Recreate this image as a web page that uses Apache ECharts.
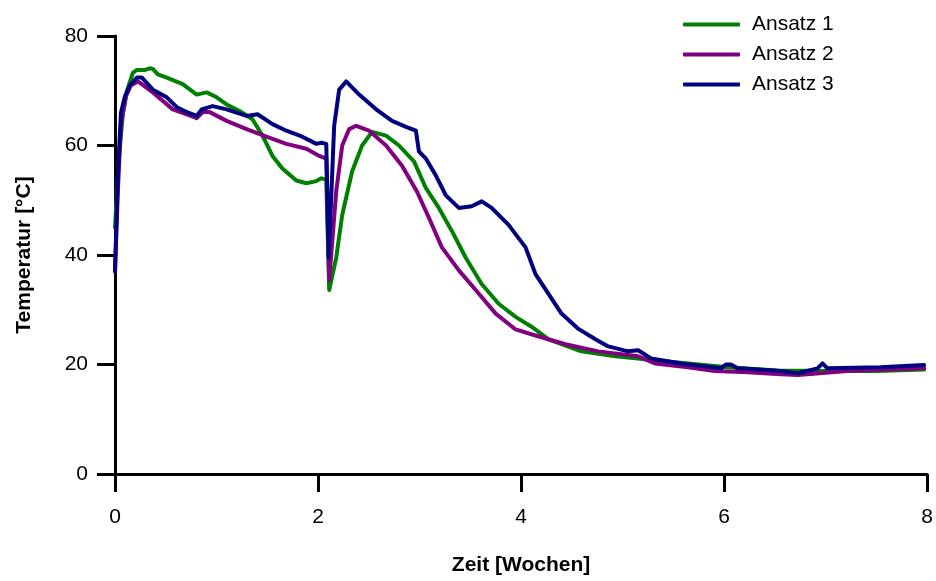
<!DOCTYPE html>
<html><head><meta charset="utf-8">
<script src="https://cdn.jsdelivr.net/npm/echarts@6/dist/echarts.min.js"></script>
<style>html,body{margin:0;padding:0;background:#fff}#c{width:936px;height:581px}</style>
</head><body><div id="c"></div>
<script>
const seriesNames = ['Ansatz 1', 'Ansatz 2', 'Ansatz 3'];
const xTicks = [0, 2, 4, 6, 8];
const yTicks = [0, 20, 40, 60, 80];

const weeks1 = [0,0.039,0.079,0.118,0.177,0.216,0.294,0.344,0.373,0.422,0.510,0.667,0.805,0.903,1.001,1.099,1.227,1.354,1.453,1.551,1.649,1.786,1.885,1.983,2.032,2.081,2.110,2.179,2.238,2.336,2.434,2.532,2.670,2.797,2.945,3.063,3.190,3.318,3.455,3.612,3.779,3.946,4.103,4.270,4.594,4.927,5.251,5.644,6.037,6.528,7.018,7.509,7.970];
const temp1 = [45,58,66,70,73.3,73.8,73.8,74.1,74,73,72.4,71.2,69.3,69.7,68.8,67.5,66.3,64.8,61.8,58.1,55.8,53.6,53.1,53.5,54,53.8,33.6,39.5,47.3,55.3,60,62.5,61.8,60,57.1,52.2,48.6,44.4,39.5,34.7,31.1,28.7,26.9,24.6,22.4,21.5,20.9,20.2,19.5,18.9,18.8,18.8,19.1];

const weeks2 = [0,0.029,0.059,0.108,0.157,0.226,0.373,0.569,0.707,0.805,0.864,0.933,1.099,1.296,1.492,1.688,1.885,2.012,2.081,2.110,2.179,2.238,2.307,2.375,2.503,2.670,2.827,2.974,3.092,3.220,3.387,3.553,3.750,3.946,4.142,4.437,4.761,5.153,5.320,5.644,5.909,6.233,6.557,6.724,7.215,7.970];
const temp2 = [37,52,64,69,71,71.7,69.7,66.6,65.7,65,66.1,66.1,64.5,63,61.6,60.3,59.4,58.1,57.6,35.4,51.6,60,63,63.6,62.7,60,56.3,51.6,46.8,41.4,37.2,33.6,29.3,26.4,25.3,23.7,22.4,21.5,20.2,19.5,18.8,18.6,18.2,18.1,18.8,19.3];

const weeks3 = [0,0.029,0.059,0.098,0.147,0.216,0.265,0.373,0.510,0.609,0.707,0.805,0.854,0.962,1.099,1.296,1.404,1.551,1.688,1.845,1.983,2.032,2.081,2.105,2.159,2.208,2.277,2.405,2.572,2.729,2.866,2.964,2.994,3.063,3.161,3.259,3.387,3.514,3.612,3.710,3.877,4.044,4.142,4.270,4.398,4.565,4.732,4.859,5.055,5.153,5.281,5.575,5.968,6.017,6.066,6.135,6.557,6.724,6.920,6.969,7.018,7.539,7.970];
const temp3 = [37,55,66,69,71,72.4,72.4,70.2,68.8,67,66.1,65.4,66.6,67.2,66.6,65.4,65.7,63.9,62.7,61.6,60.3,60.5,60.3,39.5,63.6,70.2,71.7,69.3,66.6,64.5,63.4,62.7,58.9,57.6,54.5,50.9,48.6,48.9,49.8,48.6,45.5,41.4,36.5,32.9,29.3,26.5,24.6,23.3,22.4,22.6,21.1,20.2,19.3,20,20,19.3,18.8,18.4,19.3,20.2,19.3,19.5,19.9];

const colors = ['#008000', '#800080', '#000080'];
const allWeeks = [weeks1, weeks2, weeks3];
const allTemps = [temp1, temp2, temp3];

const font = 'Liberation Sans, Arial, sans-serif';
const chart = echarts.init(document.getElementById('c'), null, {renderer: 'canvas'});
chart.setOption({
  animation: false,
  backgroundColor: '#fff',
  grid: {left: 115, right: 6, top: 36, bottom: 102, containLabel: false},
  legend: {
    orient: 'vertical', left: 678, top: 9, itemWidth: 57, itemHeight: 4, itemGap: 9,
    icon: 'roundRect',
    data: seriesNames,
    textStyle: {fontFamily: font, fontSize: 21, lineHeight: 21, color: '#000', padding: [0, 0, 0, 7]}
  },
  xAxis: {
    type: 'value', min: xTicks[0], max: xTicks[xTicks.length - 1], interval: 2,
    name: 'Zeit [Wochen]', nameLocation: 'middle', nameGap: 81,
    nameTextStyle: {fontFamily: font, fontSize: 21, fontWeight: 'bold', color: '#000', verticalAlign: 'top'},
    axisLine: {onZero: false, lineStyle: {color: '#000', width: 3}},
    axisTick: {show: true, length: 18, lineStyle: {color: '#000', width: 3}},
    axisLabel: {fontFamily: font, fontSize: 21, color: '#000', margin: 33},
    splitLine: {show: false}
  },
  yAxis: {
    type: 'value', min: yTicks[0], max: yTicks[yTicks.length - 1], interval: 20,
    name: 'Temperatur [°C]', nameLocation: 'middle', nameGap: 80,
    nameTextStyle: {fontFamily: font, fontSize: 21, fontWeight: 'bold', color: '#000'},
    axisLine: {show: true, onZero: false, lineStyle: {color: '#000', width: 3}},
    axisTick: {show: true, length: 18, lineStyle: {color: '#000', width: 3}},
    axisLabel: {fontFamily: font, fontSize: 21, color: '#000', margin: 27},
    splitLine: {show: false}
  },
  series: seriesNames.map((n, i) => ({
    name: n, type: 'line', showSymbol: false, symbol: 'none',
    color: colors[i],
    lineStyle: {color: colors[i], width: 4, join: 'round', cap: 'round'},
    data: allWeeks[i].map((w, j) => [w, allTemps[i][j]]),
    z: 3 + (i === 1 ? 0 : i === 2 ? 1 : -1)
  }))
});
</script></body></html>
